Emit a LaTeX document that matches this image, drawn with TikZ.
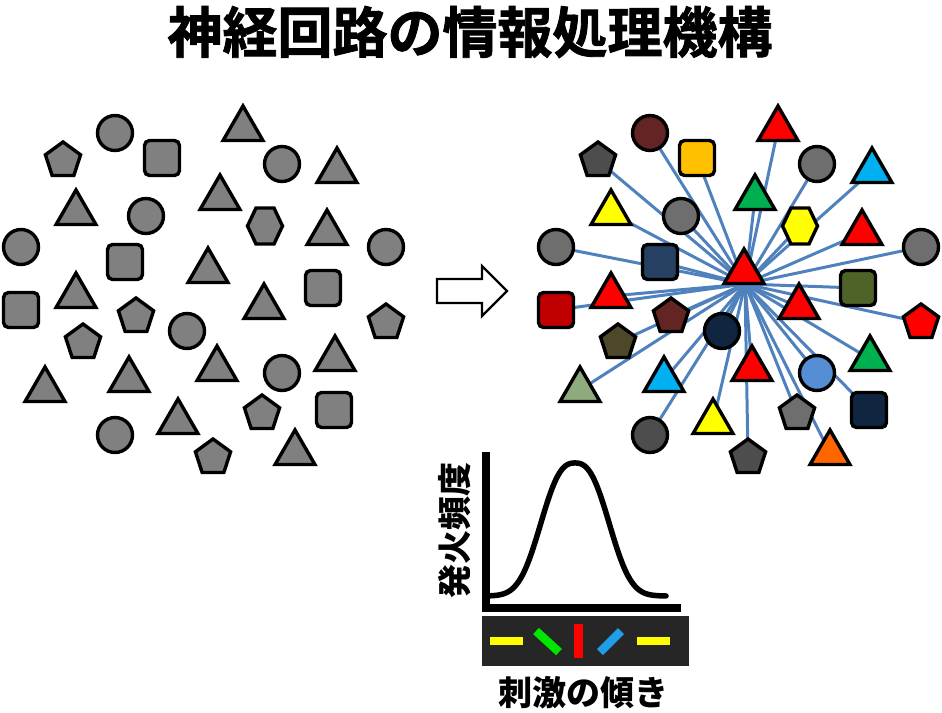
\documentclass[tikz,border=0pt]{standalone}
\usepackage{fontspec}
\newfontfamily\cjk{Noto Sans CJK JP}
\newfontfamily\cjkheavy[FakeBold=1.5]{Noto Sans CJK JP Bold}
\usetikzlibrary{shapes.geometric,backgrounds}
\definecolor{gL}{HTML}{808080}
\definecolor{gM}{HTML}{6E6E6E}
\definecolor{gD}{HTML}{4D4D4D}
\definecolor{rd}{HTML}{FF0000}
\definecolor{brownD}{HTML}{632523}
\definecolor{gold}{HTML}{FFC000}
\definecolor{skyb}{HTML}{00B0F0}
\definecolor{grn}{HTML}{00B050}
\definecolor{yel}{HTML}{FFFF00}
\definecolor{navyA}{HTML}{254061}
\definecolor{olive}{HTML}{4F6228}
\definecolor{redD}{HTML}{C00000}
\definecolor{oliveD}{HTML}{4D482A}
\definecolor{navy}{HTML}{10253F}
\definecolor{lblue}{HTML}{558ED5}
\definecolor{sage}{HTML}{8FAA7C}
\definecolor{orng}{HTML}{FF6600}
\definecolor{linkblue}{HTML}{4F81BD}
\definecolor{barbg}{HTML}{262626}
\definecolor{barg}{HTML}{00E600}
\definecolor{barb}{HTML}{1E9FE8}
\tikzset{
  shp/.style={draw=black, line width=3.4pt, inner sep=0pt, outer sep=0pt},
  circ/.style={shp, circle, minimum size=35pt},
  sq/.style={shp, rectangle, rounded corners=5pt, minimum size=35pt},
  tri/.style={shp, regular polygon, regular polygon sides=3, minimum size=46pt},
  pent/.style={shp, regular polygon, regular polygon sides=5, minimum size=37pt},
  hexpath/.style={shp},
  link/.style={draw=linkblue, line width=3pt},
  lbl/.style={font=\cjk\bfseries, inner sep=0pt},
}
\begin{document}
\begin{tikzpicture}[x=1pt,y=-1pt]
\useasboundingbox (0,0) rectangle (942,712);
% title
\node[inner sep=0pt, font=\cjkheavy\fontsize{55}{60}\selectfont] (title) at (470,32) {神経回路の情報処理機構};
% ---------- left cluster ----------
\node[circ, fill=gL] (l1) at (115,133) {};
\node[tri, fill=gL] (l2) at (243,129) {};
\node[pent, fill=gL] (l3) at (63,160.5) {};
\node[sq, fill=gL] (l4) at (162,158) {};
\node[circ, fill=gL] (l5) at (282,164) {};
\node[tri, fill=gL] (l6) at (337,171) {};
\node[tri, fill=gL] (l7) at (220,198) {};
\node[tri, fill=gL] (l8) at (76,213) {};
\node[circ, fill=gL] (l9) at (146,216) {};
\coordinate (l10) at (265,226);
\draw[hexpath, fill=gL, shift={(l10)}] (-17.5,0) -- (-9,-18) -- (9,-18) -- (17.5,0) -- (9,18) -- (-9,18) -- cycle;
\node[tri, fill=gL] (l11) at (327,233) {};
\node[circ, fill=gL] (l12) at (21,247) {};
\node[circ, fill=gL] (l13) at (386,247) {};
\node[sq, fill=gL] (l14) at (125,262) {};
\node[tri, fill=gL] (l15) at (208,271) {};
\node[sq, fill=gL] (l16) at (323,288) {};
\node[tri, fill=gL] (l17) at (76,296) {};
\node[sq, fill=gL] (l18) at (21,310) {};
\node[tri, fill=gL] (l19) at (264,307) {};
\node[pent, fill=gL] (l20) at (136,316.5) {};
\node[pent, fill=gL] (l21) at (386,322.5) {};
\node[pent, fill=gL] (l22) at (83,342.5) {};
\node[circ, fill=gL] (l23) at (187,331) {};
\node[tri, fill=gL] (l24) at (217,369) {};
\node[tri, fill=gL] (l25) at (335,359) {};
\node[circ, fill=gL] (l26) at (282,373) {};
\node[tri, fill=gL] (l27) at (45,390) {};
\node[tri, fill=gL] (l28) at (129,380) {};
\node[sq, fill=gL] (l29) at (334,410) {};
\node[pent, fill=gL] (l30) at (262,413.5) {};
\node[tri, fill=gL] (l31) at (178,422) {};
\node[circ, fill=gL] (l32) at (115,435) {};
\node[pent, fill=gL] (l33) at (213,457.5) {};
\node[tri, fill=gL] (l34) at (295,453) {};
% ---------- arrow ----------
\draw[line width=2.2pt, fill=white, line join=miter] (437,279) -- (482,279) -- (482,266) -- (507,291) -- (482,316) -- (482,303) -- (437,303) -- cycle;
% ---------- right cluster ----------
\coordinate (hub) at (745,284);
\node[pent, fill=gD] (r1) at (598,160.5) {};
\node[circ, fill=brownD] (r2) at (650,133) {};
\node[sq, fill=gold] (r3) at (697,158) {};
\node[tri, fill=rd] (r4) at (778,129) {};
\node[circ, fill=gM] (r5) at (817,164) {};
\node[tri, fill=skyb] (r6) at (872,171) {};
\node[tri, fill=grn] (r7) at (755,198) {};
\node[tri, fill=yel] (r8) at (611,213) {};
\node[circ, fill=gM] (r9) at (681,216) {};
\coordinate (r10) at (800,226);
\draw[hexpath, fill=yel, shift={(r10)}] (-17.5,0) -- (-9,-18) -- (9,-18) -- (17.5,0) -- (9,18) -- (-9,18) -- cycle;
\node[tri, fill=rd] (r11) at (862,233) {};
\node[circ, fill=gM] (r12) at (556,247) {};
\node[circ, fill=gM] (r13) at (921,247) {};
\node[sq, fill=navyA] (r14) at (660,262) {};
\node[tri, fill=rd] (r15) at (744,272) {};
\node[sq, fill=olive] (r16) at (858,288) {};
\node[tri, fill=rd] (r17) at (611,296) {};
\node[sq, fill=redD] (r18) at (556,310) {};
\node[tri, fill=rd] (r19) at (799,307) {};
\node[pent, fill=brownD] (r20) at (671,316.5) {};
\node[pent, fill=rd] (r21) at (921,322.5) {};
\node[pent, fill=oliveD] (r22) at (618,342.5) {};
\node[circ, fill=navy] (r23) at (722,331) {};
\node[tri, fill=rd] (r24) at (752,369) {};
\node[tri, fill=grn] (r25) at (870,359) {};
\node[circ, fill=lblue] (r26) at (817,373) {};
\node[tri, fill=sage] (r27) at (580,390) {};
\node[tri, fill=skyb] (r28) at (664,380) {};
\node[sq, fill=navy] (r29) at (869,410) {};
\node[pent, fill=gM] (r30) at (797,413.5) {};
\node[tri, fill=yel] (r31) at (713,422) {};
\node[circ, fill=gD] (r32) at (650,435) {};
\node[pent, fill=gD] (r33) at (748,457.5) {};
\node[tri, fill=orng] (r34) at (830,453) {};
\begin{pgfonlayer}{background}
\foreach \n in {r1,r2,r3,r4,r5,r6,r7,r8,r9,r10,r11,r12,r13,r14,r16,r17,r18,r19,r20,r21,r22,r23,r24,r25,r26,r27,r28,r29,r30,r31,r32,r33,r34}
  \draw[link] (\n.center) -- (hub);
\end{pgfonlayer}
% ---------- tuning curve ----------
\draw[line width=8pt, line join=miter] (486,452) -- (486,608) -- (681,608);
\draw[line width=5.5pt, line cap=round, line join=round, samples=89, domain=490:666, smooth]
  plot (\x, {596-133*exp(-pow(abs(\x-575)/41.5,2.6))});
\node[lbl, rotate=90, font=\cjk\bfseries\fontsize{34}{36}\selectfont] (ylab) at (455,530) {発火頻度};
% stimulus bar
\node[fill=barbg, minimum width=207pt, minimum height=50pt, inner sep=0pt] (bar) at (585.5,641) {};
\draw[yel, line width=8.5pt] (490,641) -- (523,641);
\draw[yel, line width=8.5pt] (637,641) -- (670,641);
\draw[barg, line width=8.5pt] (536,631) -- (559,652);
\draw[rd, line width=9pt] (578.5,624) -- (578.5,658);
\draw[barb, line width=8.5pt] (621,631) -- (600,652);
\node[lbl, font=\cjk\bfseries\fontsize{34}{38}\selectfont] (xlab) at (583,693) {刺激の傾き};
\end{tikzpicture}
\end{document}
